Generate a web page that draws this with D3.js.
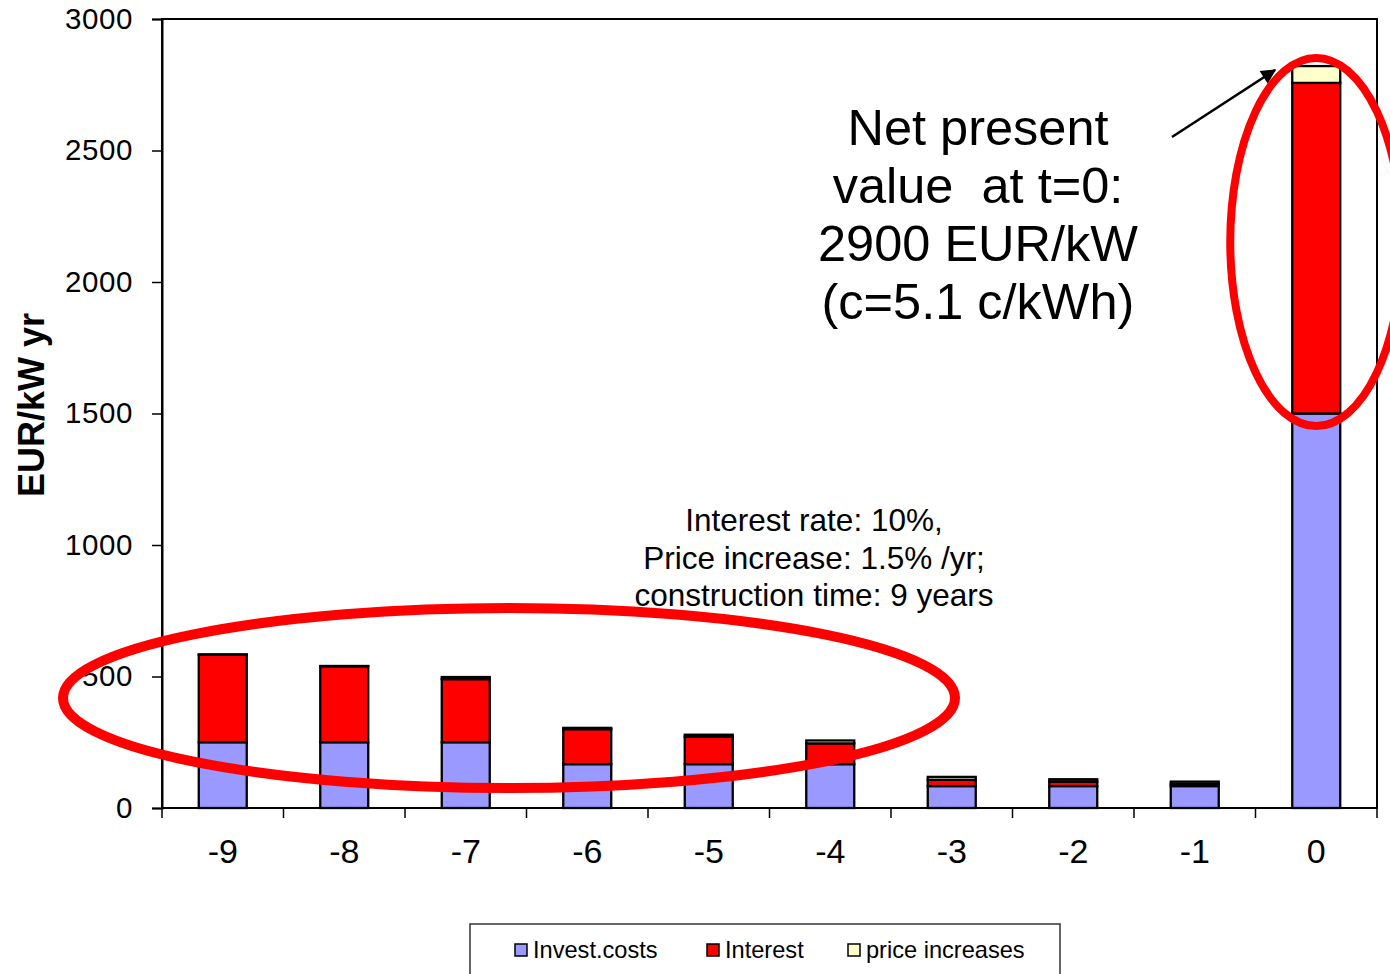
<!DOCTYPE html>
<html>
<head>
<meta charset="utf-8">
<script src="https://cdn.jsdelivr.net/npm/d3@7"></script>
<style>
  html, body { margin: 0; padding: 0; background: #fff; }
  svg { display: block; font-family: Arial, "Liberation Sans", sans-serif; }
</style>
</head>
<body>
<svg id="chart" width="1390" height="974"></svg>
<script>
// Years relative to commissioning (t = 0)
const years = ["-9", "-8", "-7", "-6", "-5", "-4", "-3", "-2", "-1", "0"];
// Cost components, EUR/kW
const investCosts    = [250, 250, 250, 166.7, 166.7, 166.7, 83.3, 83.3, 83.3, 1500];
const interest       = [333, 289, 240, 133, 104, 79, 24, 17, 8, 1257];
const priceIncreases = [1, 1, 8, 5, 8, 11, 11, 9, 9, 64];

const seriesNames  = ["Invest.costs", "Interest", "price increases"];
const seriesColors = ["#9999ff", "#ff0000", "#ffffcc"];
const yTicks = [0, 500, 1000, 1500, 2000, 2500, 3000];

const noteLines  = ["Net present", "value  at t=0:", "2900 EUR/kW", "(c=5.1 c/kWh)"];
const paramLines = ["Interest rate: 10%,", "Price increase: 1.5% /yr;", "construction time: 9 years"];

const svg = d3.select("#chart");
const plot = { left: 162, right: 1377, top: 19, bottom: 808 };

const x = d3.scaleBand()
  .domain(years)
  .range([plot.left, plot.right])
  .paddingInner(0.605)
  .paddingOuter(0.3025);

const y = d3.scaleLinear().domain([0, 3000]).range([plot.bottom, plot.top]);

// Stack the three components per year
const rows = years.map((yr, i) => ({
  year: yr,
  "Invest.costs": investCosts[i],
  "Interest": interest[i],
  "price increases": priceIncreases[i]
}));
const stacked = d3.stack().keys(seriesNames)(rows);

// Plot frame
svg.append("rect")
  .attr("x", plot.left).attr("y", plot.top)
  .attr("width", plot.right - plot.left).attr("height", plot.bottom - plot.top)
  .attr("fill", "none").attr("stroke", "#000").attr("stroke-width", 2);

// Bars
stacked.forEach((layer, si) => {
  svg.append("g").selectAll("rect")
    .data(layer)
    .join("rect")
    .attr("x", d => x(d.data.year))
    .attr("width", x.bandwidth())
    .attr("y", d => y(d[1]))
    .attr("height", d => y(d[0]) - y(d[1]))
    .attr("fill", seriesColors[si])
    .attr("stroke", "#000")
    .attr("stroke-width", 2.3);
});

// Y axis
const yAxis = d3.axisLeft(y).tickValues(yTicks).tickSize(10).tickPadding(19).tickFormat(d3.format("d"));
const gy = svg.append("g").attr("transform", `translate(${plot.left},0)`).call(yAxis);
gy.select(".domain").attr("stroke", "#000").attr("stroke-width", 2);
gy.selectAll(".tick line").attr("stroke", "#000").attr("stroke-width", 1.5);
gy.selectAll(".tick text")
  .attr("font-size", 29.5).attr("fill", "#000")
  .attr("font-family", "Arial, 'Liberation Sans', sans-serif")
  .attr("letter-spacing", 0.6);

// X axis: category labels with tick marks on the cell boundaries
const step = x.step();
const gx = svg.append("g").attr("transform", `translate(0,${plot.bottom})`);
gx.append("line")
  .attr("x1", plot.left).attr("x2", plot.right)
  .attr("stroke", "#000").attr("stroke-width", 2);
const bounds = d3.range(years.length + 1).map(i => x.range()[0] + i * step);
gx.selectAll("line.tick")
  .data(bounds)
  .join("line")
  .attr("class", "tick")
  .attr("x1", d => d).attr("x2", d => d)
  .attr("y1", 0).attr("y2", 10)
  .attr("stroke", "#000").attr("stroke-width", 1.5);
gx.selectAll("text")
  .data(years)
  .join("text")
  .attr("x", d => x(d) + x.bandwidth() / 2)
  .attr("y", 55)
  .attr("text-anchor", "middle")
  .attr("font-size", 34)
  .attr("fill", "#000")
  .text(d => d);

// Y axis title
svg.append("text")
  .attr("transform", "translate(44,405) rotate(-90)")
  .attr("text-anchor", "middle")
  .attr("font-size", 36)
  .attr("font-weight", "bold")
  .attr("fill", "#000")
  .text("EUR/kW yr");

// Parameter note
svg.append("g").selectAll("text")
  .data(paramLines)
  .join("text")
  .attr("x", 814)
  .attr("y", (d, i) => 531 + i * 37.5)
  .attr("text-anchor", "middle")
  .attr("font-size", 31.5)
  .attr("fill", "#000")
  .text(d => d);

// Net present value note
svg.append("g").selectAll("text")
  .data(noteLines)
  .join("text")
  .attr("x", 978)
  .attr("y", (d, i) => 145 + i * 58)
  .attr("text-anchor", "middle")
  .attr("font-size", 50.5)
  .attr("fill", "#000")
  .style("white-space", "pre")
  .text(d => d);

// Arrow pointing at the t=0 bar
const defs = svg.append("defs");
defs.append("marker")
  .attr("id", "arrowhead")
  .attr("viewBox", "0 0 10 10")
  .attr("refX", 9).attr("refY", 5)
  .attr("markerWidth", 7).attr("markerHeight", 6)
  .attr("markerUnits", "strokeWidth")
  .attr("orient", "auto")
  .append("path").attr("d", "M0,0 L10,5 L0,10 z").attr("fill", "#000");
svg.append("line")
  .attr("x1", 1172).attr("y1", 137)
  .attr("x2", 1275).attr("y2", 70)
  .attr("stroke", "#000").attr("stroke-width", 2.5)
  .attr("marker-end", "url(#arrowhead)");

// Highlight ellipses
svg.append("ellipse")
  .attr("cx", 509).attr("cy", 698).attr("rx", 446).attr("ry", 90)
  .attr("fill", "none").attr("stroke", "#ff0000").attr("stroke-width", 10);
svg.append("ellipse")
  .attr("cx", x("0") + x.bandwidth() / 2).attr("cy", 242).attr("rx", 86).attr("ry", 184)
  .attr("fill", "none").attr("stroke", "#ff0000").attr("stroke-width", 8);

// Legend
const legend = svg.append("g");
legend.append("rect")
  .attr("x", 470).attr("y", 924).attr("width", 590).attr("height", 70)
  .attr("fill", "#fff").attr("stroke", "#333").attr("stroke-width", 1.5);
const legendX = [515, 707, 848];
seriesNames.forEach((name, i) => {
  legend.append("rect")
    .attr("x", legendX[i]).attr("y", 944).attr("width", 12).attr("height", 12)
    .attr("fill", seriesColors[i]).attr("stroke", "#000").attr("stroke-width", 1.5);
  legend.append("text")
    .attr("x", legendX[i] + 18).attr("y", 958)
    .attr("font-size", 23.6).attr("fill", "#000")
    .text(name);
});
</script>
</body>
</html>
